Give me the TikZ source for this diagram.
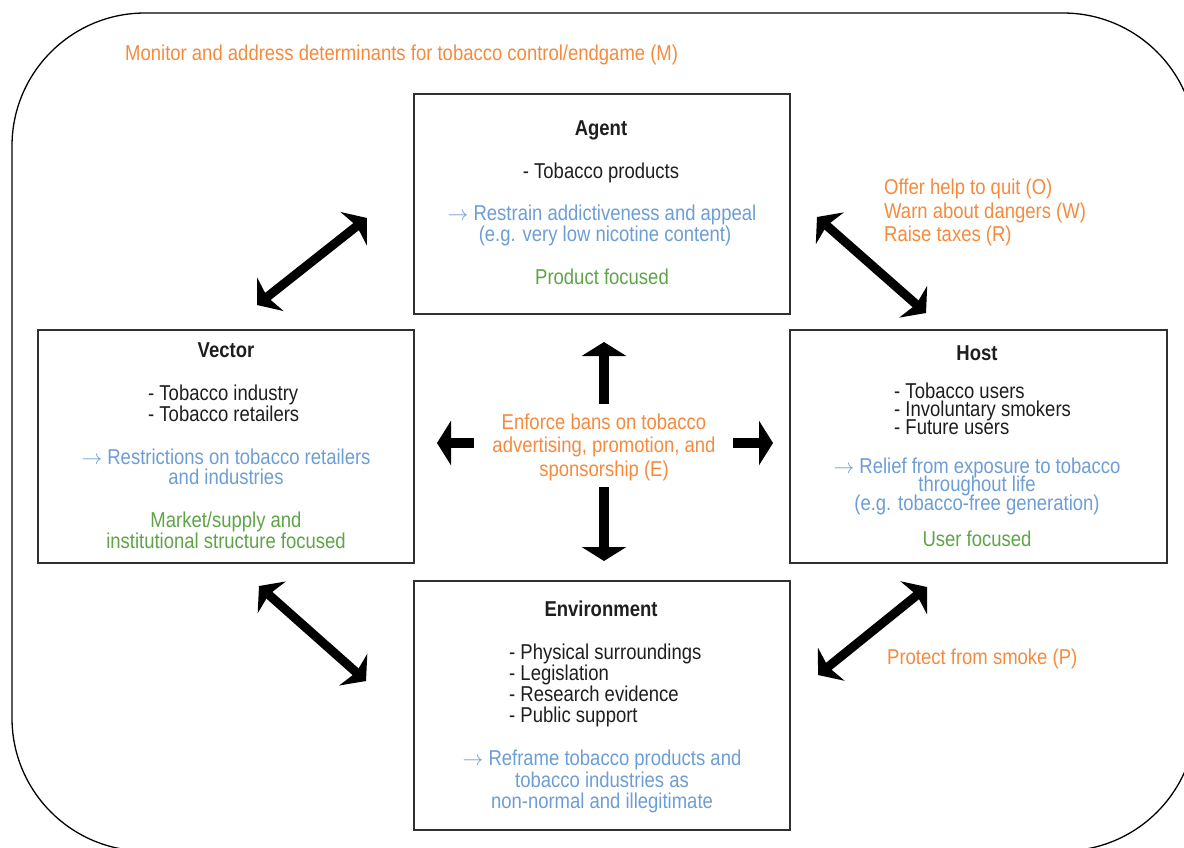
\documentclass[tikz,border=0pt]{standalone}
\usepackage{fontspec}
\setmainfont{Liberation Sans}[FakeStretch=0.86]
\usetikzlibrary{arrows.meta}
\definecolor{orng}{HTML}{F58A3D}
\definecolor{blu}{HTML}{6D9DD5}
\definecolor{grn}{HTML}{5EA447}
\definecolor{txt}{HTML}{1E1E1E}
\definecolor{boxline}{HTML}{303030}
\newcommand{\rarr}{$\rightarrow$}
\tikzset{
  lbl/.style={font=\fontsize{21.5}{18.5}\selectfont, text=txt, inner sep=0pt, anchor=base},
  lblw/.style={lbl, anchor=base west},
  hd/.style={lbl, font=\fontsize{21.5}{18.5}\selectfont\bfseries},
  org/.style={text=orng},
  bl/.style={text=blu},
  gr/.style={text=grn},
  box/.style={draw=boxline, line width=1.5pt, inner sep=0pt, anchor=north west},
  dbl/.style={line width=9pt, {Stealth[length=17pt,width=42pt,inset=4pt]}-{Stealth[length=17pt,width=42pt,inset=4pt]}},
  sgl/.style={line width=10pt, -{Triangle[length=14pt,width=44pt]}},
}
\begin{document}
\begin{tikzpicture}[x=1pt,y=-1pt]
\useasboundingbox (0,0) rectangle (1184,847);
\begin{scope}
\clip (0,0) rectangle (1184,847);
\draw[line width=1.3pt, rounded corners=133pt] (12,13) rectangle (1196,851);
\end{scope}

% boxes
\node[box, minimum width=376pt, minimum height=220pt] (agent) at (413,93) {};
\node[box, minimum width=376pt, minimum height=233pt] (vector) at (37,329) {};
\node[box, minimum width=377pt, minimum height=233pt] (host) at (789,329) {};
\node[box, minimum width=376pt, minimum height=249pt] (env) at (413,580) {};

% top label
\node[lblw, org] (monitor) at (125,60) {Monitor and address determinants for tobacco control/endgame (M)};

% Agent
\node[hd] (agT) at (601,135) {Agent};
\node[lbl] (ag1) at (601,178) {- Tobacco products};
\node[lbl, bl] (ag2) at (602,220) {\rarr\ Restrain addictiveness and appeal};
\node[lbl, bl] (ag3) at (605,241) {(e.g. very low nicotine content)};
\node[lbl, gr] (ag4) at (602,284) {Product focused};

% Vector
\node[hd] (vcT) at (226,357) {Vector};
\node[lblw] (vc1) at (148,400) {- Tobacco industry};
\node[lblw] (vc2) at (148,421) {- Tobacco retailers};
\node[lbl, bl] (vc3) at (226,464) {\rarr\ Restrictions on tobacco retailers};
\node[lbl, bl] (vc4) at (226,484) {and industries};
\node[lbl, gr] (vc5) at (226,527) {Market/supply and};
\node[lbl, gr] (vc6) at (226,548) {institutional structure focused};

% Host
\node[hd] (hsT) at (977,360) {Host};
\node[lblw] (hs1) at (894,398) {- Tobacco users};
\node[lblw] (hs2) at (894,416) {- Involuntary smokers};
\node[lblw] (hs3) at (894,434) {- Future users};
\node[lbl, bl] (hs4) at (977,473) {\rarr\ Relief from exposure to tobacco};
\node[lbl, bl] (hs5) at (977,491) {throughout life};
\node[lbl, bl] (hs6) at (977,510) {(e.g. tobacco-free generation)};
\node[lbl, gr] (hs7) at (977,546) {User focused};

% Environment
\node[hd] (enT) at (601,616) {Environment};
\node[lblw] (en1) at (509,659) {- Physical surroundings};
\node[lblw] (en2) at (509,680) {- Legislation};
\node[lblw] (en3) at (509,701) {- Research evidence};
\node[lblw] (en4) at (509,722) {- Public support};
\node[lbl, bl] (en5) at (602,765) {\rarr\ Reframe tobacco products and};
\node[lbl, bl] (en6) at (602,787) {tobacco industries as};
\node[lbl, bl] (en7) at (602,808) {non-normal and illegitimate};

% centre
\node[lbl, org] (c1) at (604,429) {Enforce bans on tobacco};
\node[lbl, org] (c2) at (604,452) {advertising, promotion, and};
\node[lbl, org] (c3) at (604,476) {sponsorship (E)};

% side labels
\node[lblw, org] (o1) at (884,194) {Offer help to quit (O)};
\node[lblw, org] (o2) at (884,218) {Warn about dangers (W)};
\node[lblw, org] (o3) at (884,241) {Raise taxes (R)};
\node[lblw, org] (p1) at (887,664) {Protect from smoke (P)};

% arrow end points
\coordinate (avA) at (257,305);
\coordinate (avB) at (367,218);
\coordinate (ahA) at (817,217);
\coordinate (ahB) at (926,313);
\coordinate (veA) at (259,586);
\coordinate (veB) at (366,681);
\coordinate (heA) at (818,675);
\coordinate (heB) at (927,587);

\draw[dbl] (avA) -- (avB);
\draw[dbl] (ahA) -- (ahB);
\draw[dbl] (veA) -- (veB);
\draw[dbl] (heA) -- (heB);

\coordinate (upS) at (604,404);
\coordinate (upE) at (604,342);
\coordinate (dnS) at (604,487);
\coordinate (dnE) at (604,561);
\coordinate (lfS) at (474,443);
\coordinate (lfE) at (437,443);
\coordinate (rtS) at (733,443);
\coordinate (rtE) at (773,443);
\draw[sgl] (upS) -- (upE);
\draw[sgl] (dnS) -- (dnE);
\draw[sgl] (lfS) -- (lfE);
\draw[sgl] (rtS) -- (rtE);
\end{tikzpicture}
\end{document}
